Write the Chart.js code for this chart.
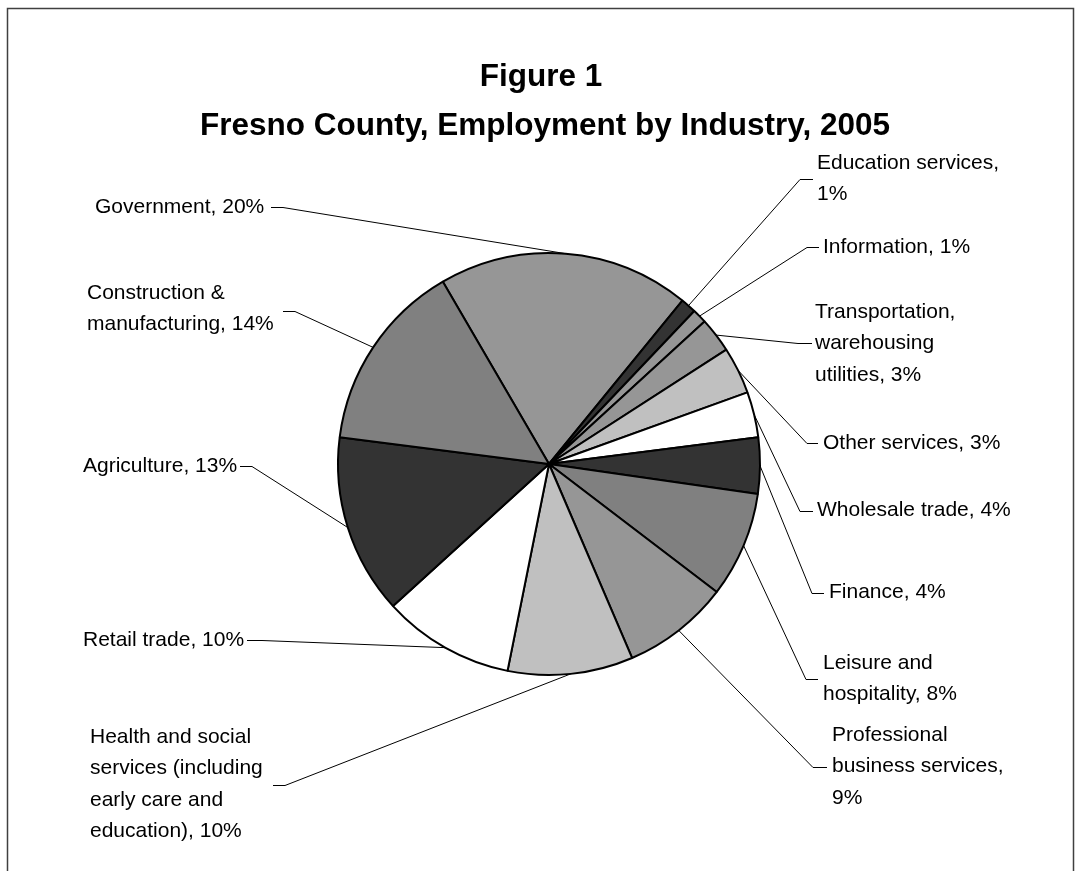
<!DOCTYPE html>
<html>
<head>
<meta charset="utf-8">
<script src="https://cdn.jsdelivr.net/npm/chart.js@4.4.0/dist/chart.umd.min.js"></script>
<style>
  html, body { margin: 0; padding: 0; background: #fff; }
  #wrap { width: 1081px; height: 871px; position: relative; }
</style>
</head>
<body>
<div id="wrap"><canvas id="chartIndustry"></canvas></div>
<script>
const chartIndustry = document.getElementById('chartIndustry')

// slices, clockwise, starting with Government
const categories = ['Government', 'Education services', 'Information', 'Transportation, warehousing utilities',
  'Other services', 'Wholesale trade', 'Finance', 'Leisure and hospitality', 'Professional business services',
  'Health and social services (including early care and education)', 'Retail trade', 'Agriculture',
  'Construction & manufacturing']
// shares (%)
const shares = [19.3, 1.2, 1.1, 2.7, 3.6, 3.5, 4.3, 8.1, 8.2, 9.6, 10.1, 13.8, 14.6]
// label text as printed on the figure
const labelLines = [
  ['Government, 20%'],
  ['Education services,', '1%'],
  ['Information, 1%'],
  ['Transportation,', 'warehousing', 'utilities, 3%'],
  ['Other services, 3%'],
  ['Wholesale trade, 4%'],
  ['Finance, 4%'],
  ['Leisure and', 'hospitality, 8%'],
  ['Professional', 'business services,', '9%'],
  ['Health and social', 'services (including', 'early care and', 'education), 10%'],
  ['Retail trade, 10%'],
  ['Agriculture, 13%'],
  ['Construction &', 'manufacturing, 14%']
]
const titleLines = ['Figure 1', 'Fresno County, Employment by Industry, 2005']

const fills = ['#969696', '#333333', '#969696', '#969696', '#c0c0c0', '#ffffff', '#333333',
  '#808080', '#969696', '#c0c0c0', '#ffffff', '#333333', '#808080']

// label placement: text x, first line y, leader tick (near pie) x, tick (near text) x, tick y
const labelBox = [
  [95, 207, 283, 271, 207],
  [817, 163, 800, 813, 179],
  [823, 247, 807, 819, 247],
  [815, 312, 798, 812, 343],
  [823, 443, 807, 818, 443],
  [817, 510, 800, 813, 511],
  [829, 592, 812, 824, 593],
  [823, 663, 806, 818, 679],
  [832, 735, 813, 827, 767],
  [90, 737, 285, 273, 785],
  [83, 640, 262, 247, 640],
  [83, 466, 252, 240, 466],
  [87, 293, 295, 283, 311]
]
const lineGap = 31.5

const annotations = {
  id: 'annotations',
  afterDraw(chart) {
    const ctx = chart.ctx
    ctx.save()

    // frame
    ctx.strokeStyle = '#404040'
    ctx.lineWidth = 1.5
    ctx.beginPath()
    ctx.moveTo(7.5, 880)
    ctx.lineTo(7.5, 8.5)
    ctx.lineTo(1073.5, 8.5)
    ctx.lineTo(1073.5, 880)
    ctx.stroke()

    // title
    ctx.fillStyle = '#000'
    ctx.textAlign = 'center'
    ctx.textBaseline = 'alphabetic'
    ctx.font = 'bold 31.5px "Liberation Sans", Arial, sans-serif'
    ctx.fillText(titleLines[0], 541, 86)
    ctx.fillText(titleLines[1], 545, 135)

    // labels + leader lines
    const arcs = chart.getDatasetMeta(0).data
    ctx.font = '21px "Liberation Sans", Arial, sans-serif'
    ctx.textAlign = 'left'
    ctx.textBaseline = 'middle'
    ctx.strokeStyle = '#000'
    ctx.lineWidth = 1
    arcs.forEach((arc, i) => {
      const p = arc.getProps(['x', 'y', 'startAngle', 'endAngle', 'outerRadius'], true)
      const mid = (p.startAngle + p.endAngle) / 2
      const ex = p.x + Math.cos(mid) * p.outerRadius
      const ey = p.y + Math.sin(mid) * p.outerRadius
      const b = labelBox[i]
      ctx.beginPath()
      ctx.moveTo(ex, ey)
      ctx.lineTo(b[2], b[4] + 0.5)
      ctx.lineTo(b[3], b[4] + 0.5)
      ctx.stroke()
      labelLines[i].forEach((t, k) => {
        ctx.fillText(t, b[0], b[1] + k * lineGap)
      })
    })
    ctx.restore()
  }
}

new Chart(chartIndustry, {
  type: 'pie',
  data: {
    labels: categories,
    datasets: [{
      data: shares,
      backgroundColor: fills,
      borderColor: '#000',
      borderWidth: 2
    }]
  },
  options: {
    responsive: true,
    maintainAspectRatio: false,
    animation: false,
    rotation: -30.2,
    layout: { padding: { left: 337, right: 320, top: 252, bottom: 195 } },
    plugins: {
      legend: { display: false },
      tooltip: { enabled: false },
      title: { display: false }
    }
  },
  plugins: [annotations]
})
</script>
</body>
</html>
